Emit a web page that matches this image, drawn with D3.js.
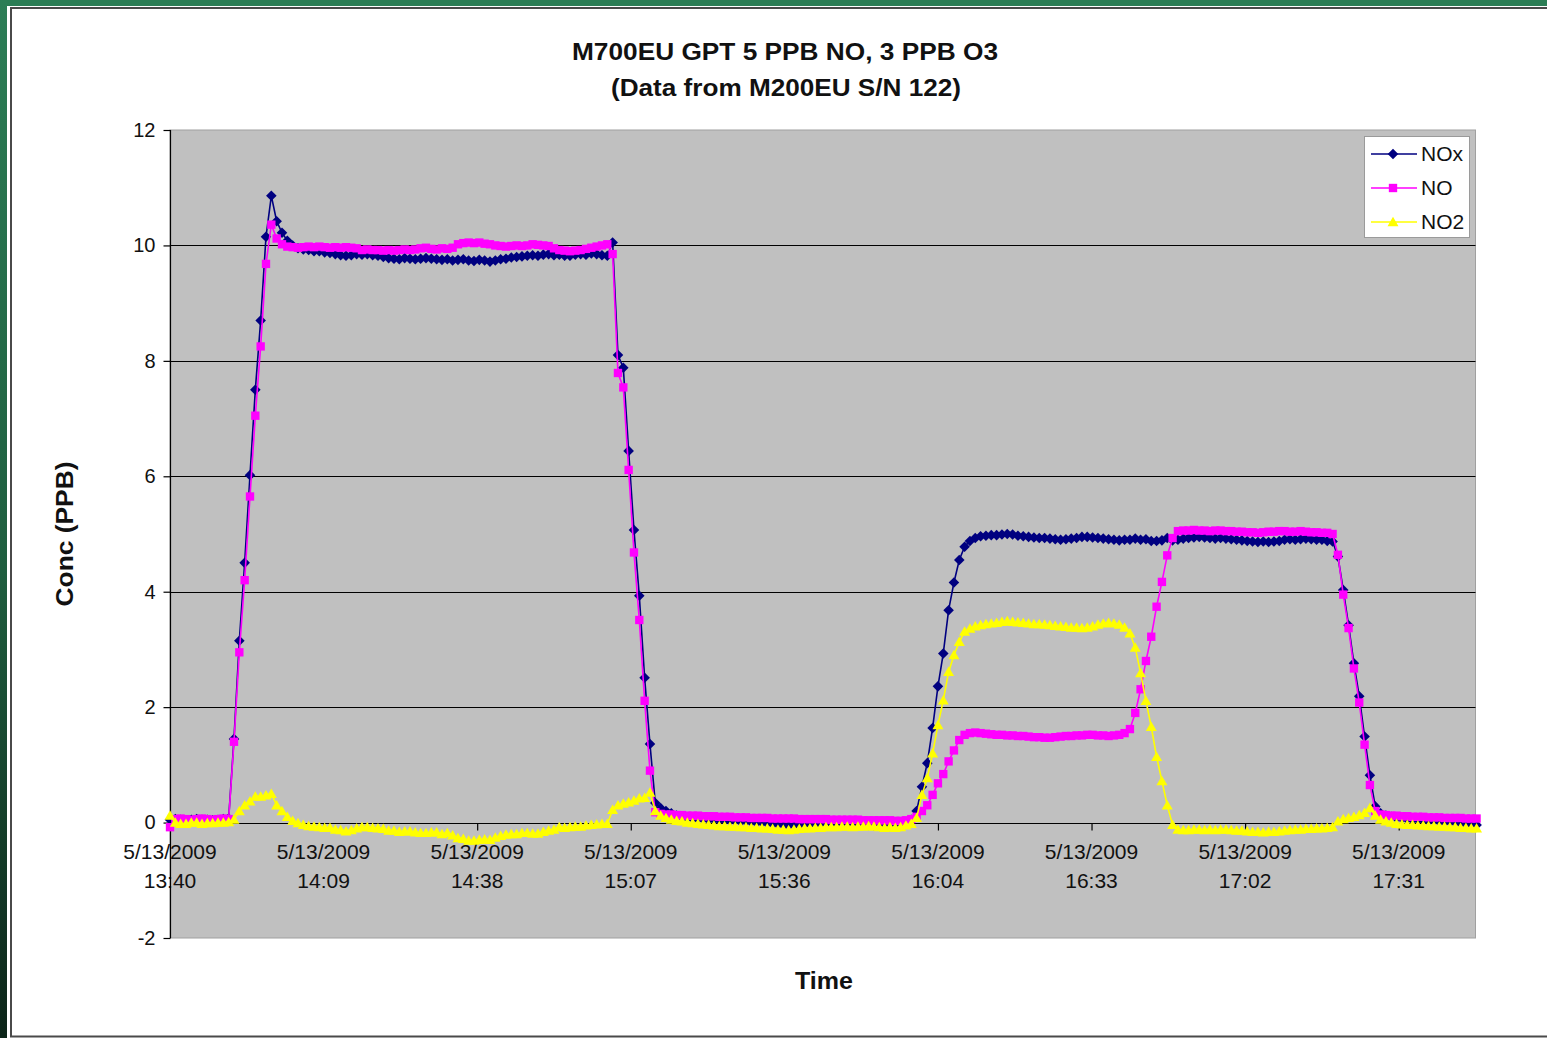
<!DOCTYPE html>
<html><head><meta charset="utf-8">
<script src="https://cdn.jsdelivr.net/npm/d3@7"></script>
<style>html,body{margin:0;padding:0;background:#fff;overflow:hidden;} svg{display:block;font-family:"Liberation Sans",Arial,sans-serif;}</style>
</head><body>
<svg id="c" width="1547" height="1038"></svg>
<script>
// ---------------- data ----------------
const chartTitle = ["M700EU GPT 5 PPB NO, 3 PPB O3", "(Data from M200EU S/N 122)"];
const yAxisTitle = "Conc (PPB)";
const xAxisTitle = "Time";
const dateLabel = "5/13/2009";
const startTime = "13:40:00";      // first reading; one reading per minute
const axisEndTime = "17:44:48";
const tickTimes = ["13:40:00","14:08:48","14:37:36","15:06:24","15:35:12","16:04:00","16:32:48","17:01:36","17:30:24"];
const tickLabels = ["13:40","14:09","14:38","15:07","15:36","16:04","16:33","17:02","17:31"];
const yTicks = [-2,0,2,4,6,8,10,12];
const seriesNames = ["NOx","NO","NO2"];

const noxValues = [
 0.05,0.06,0.05,0.04,0.05,0.06,0.05,0.05,0.04,0.05,
 0.06,0.07,1.45,3.15,4.5,6.02,7.5,8.7,10.15,10.86,
 10.42,10.22,10.08,10.0,9.95,9.93,9.92,9.9,9.9,9.88,
 9.87,9.85,9.83,9.82,9.83,9.85,9.84,9.85,9.83,9.82,
 9.8,9.78,9.77,9.76,9.78,9.77,9.76,9.77,9.78,9.77,
 9.76,9.75,9.76,9.74,9.75,9.76,9.74,9.73,9.75,9.74,
 9.72,9.74,9.76,9.77,9.79,9.8,9.81,9.82,9.83,9.82,
 9.84,9.85,9.83,9.84,9.82,9.82,9.84,9.85,9.84,9.86,
 9.85,9.83,9.82,10.05,8.1,7.88,6.44,5.07,3.93,2.51,
 1.36,0.34,0.25,0.2,0.16,0.12,0.1,0.08,0.07,0.06,
 0.06,0.05,0.05,0.04,0.04,0.03,0.03,0.02,0.02,0.01,
 0.0,0.0,-0.01,-0.02,-0.03,-0.04,-0.05,-0.05,-0.04,-0.03,
 -0.03,-0.02,-0.02,-0.01,-0.02,-0.02,-0.01,-0.02,-0.03,-0.02,
 -0.03,-0.04,-0.05,-0.06,-0.07,-0.06,-0.07,-0.05,0.0,0.05,
 0.2,0.62,1.03,1.64,2.36,2.93,3.68,4.16,4.55,4.78,
 4.88,4.93,4.96,4.97,4.98,4.98,4.99,5.0,4.99,4.97,
 4.96,4.95,4.94,4.93,4.93,4.92,4.91,4.9,4.91,4.92,
 4.93,4.95,4.95,4.94,4.93,4.92,4.91,4.9,4.89,4.9,
 4.9,4.92,4.9,4.91,4.88,4.88,4.89,4.93,4.89,4.9,
 4.92,4.93,4.94,4.95,4.94,4.93,4.92,4.93,4.92,4.91,
 4.9,4.89,4.88,4.87,4.86,4.87,4.86,4.87,4.88,4.9,
 4.91,4.9,4.91,4.92,4.91,4.9,4.9,4.88,4.87,4.61,
 4.03,3.42,2.76,2.19,1.49,0.82,0.28,0.16,0.12,0.1,
 0.08,0.07,0.06,0.05,0.05,0.04,0.03,0.03,0.02,0.01,
 0.01,0.0,-0.01,-0.02,-0.03,-0.04
];
const noValues = [
 -0.08,0.06,0.07,0.06,0.05,0.06,0.07,0.06,0.05,0.06,
 0.07,0.06,1.4,2.95,4.2,5.65,7.05,8.25,9.68,10.36,
 10.12,10.02,9.98,9.97,9.96,9.97,9.98,9.97,9.98,9.97,
 9.96,9.97,9.96,9.97,9.96,9.95,9.92,9.93,9.92,9.92,
 9.91,9.92,9.91,9.92,9.93,9.92,9.93,9.95,9.96,9.94,
 9.93,9.95,9.94,9.96,10.02,10.04,10.05,10.04,10.05,10.03,
 10.02,10.0,9.99,9.98,9.99,10.0,9.99,10.0,10.02,10.01,
 10.0,9.99,9.95,9.92,9.91,9.9,9.91,9.92,9.94,9.96,
 9.98,10.0,10.02,9.85,7.79,7.54,6.11,4.68,3.51,2.11,
 0.9,0.18,0.15,0.14,0.14,0.13,0.13,0.12,0.12,0.12,
 0.11,0.11,0.11,0.1,0.1,0.1,0.09,0.09,0.09,0.08,
 0.08,0.08,0.08,0.07,0.07,0.07,0.07,0.07,0.06,0.06,
 0.06,0.06,0.06,0.06,0.05,0.05,0.05,0.05,0.05,0.05,
 0.04,0.04,0.04,0.04,0.04,0.04,0.03,0.03,0.04,0.06,
 0.1,0.2,0.3,0.48,0.68,0.84,1.06,1.25,1.43,1.52,
 1.55,1.56,1.55,1.54,1.53,1.52,1.52,1.51,1.51,1.5,
 1.5,1.49,1.48,1.48,1.47,1.47,1.48,1.49,1.5,1.5,
 1.51,1.51,1.52,1.52,1.51,1.51,1.5,1.51,1.52,1.55,
 1.62,1.9,2.31,2.8,3.22,3.74,4.17,4.63,4.93,5.05,
 5.06,5.06,5.07,5.06,5.06,5.05,5.06,5.06,5.05,5.05,
 5.04,5.04,5.03,5.03,5.02,5.03,5.04,5.04,5.05,5.05,
 5.04,5.04,5.05,5.04,5.03,5.03,5.02,5.02,5.0,4.64,
 3.95,3.37,2.67,2.08,1.35,0.65,0.2,0.14,0.13,0.12,
 0.12,0.11,0.11,0.1,0.1,0.1,0.09,0.09,0.09,0.08,
 0.08,0.08,0.08,0.07,0.07,0.07
];
const no2Values = [
 0.12,0.0,-0.02,-0.02,0.0,0.0,-0.02,-0.01,-0.01,0.0,
 0.0,0.01,0.05,0.2,0.3,0.37,0.45,0.45,0.47,0.5,
 0.3,0.2,0.1,0.03,-0.01,-0.04,-0.06,-0.07,-0.08,-0.09,
 -0.09,-0.12,-0.13,-0.15,-0.13,-0.1,-0.08,-0.08,-0.09,-0.1,
 -0.11,-0.14,-0.14,-0.16,-0.15,-0.15,-0.17,-0.18,-0.18,-0.17,
 -0.17,-0.2,-0.18,-0.22,-0.27,-0.28,-0.31,-0.31,-0.3,-0.29,
 -0.3,-0.26,-0.23,-0.21,-0.2,-0.2,-0.18,-0.18,-0.19,-0.19,
 -0.16,-0.14,-0.12,-0.08,-0.09,-0.08,-0.07,-0.07,-0.05,-0.04,
 -0.03,-0.02,-0.02,0.22,0.3,0.33,0.35,0.38,0.42,0.43,
 0.52,0.2,0.12,0.08,0.05,0.03,0.02,0.0,-0.01,-0.02,
 -0.03,-0.04,-0.05,-0.06,-0.06,-0.07,-0.07,-0.08,-0.08,-0.09,
 -0.09,-0.1,-0.1,-0.11,-0.12,-0.12,-0.13,-0.12,-0.11,-0.1,
 -0.1,-0.09,-0.09,-0.08,-0.08,-0.08,-0.07,-0.07,-0.08,-0.07,
 -0.07,-0.06,-0.07,-0.08,-0.09,-0.08,-0.09,-0.08,-0.05,-0.02,
 0.08,0.48,0.77,1.2,1.69,2.12,2.61,2.9,3.13,3.31,
 3.36,3.4,3.42,3.44,3.45,3.46,3.48,3.49,3.48,3.47,
 3.46,3.45,3.44,3.44,3.43,3.42,3.41,3.4,3.39,3.38,
 3.38,3.37,3.38,3.4,3.43,3.45,3.46,3.45,3.43,3.38,
 3.28,3.03,2.59,2.11,1.66,1.14,0.72,0.3,-0.04,-0.12,
 -0.13,-0.13,-0.12,-0.12,-0.13,-0.12,-0.13,-0.12,-0.12,-0.13,
 -0.14,-0.14,-0.15,-0.16,-0.16,-0.17,-0.16,-0.16,-0.15,-0.14,
 -0.13,-0.12,-0.12,-0.11,-0.11,-0.1,-0.1,-0.09,-0.08,0.02,
 0.06,0.08,0.1,0.13,0.17,0.25,0.12,0.05,0.02,0.0,
 -0.02,-0.03,-0.04,-0.04,-0.05,-0.05,-0.06,-0.06,-0.07,-0.07,
 -0.08,-0.08,-0.09,-0.09,-0.1,-0.1
];

// ---------------- drawing ----------------
const svg = d3.select("#c");
const W = 1547, H = 1038;
const plot = {left: 170, right: 1475.5, top: 130, bottom: 938};

const parseT = s => { const [h,m,sec] = s.split(":").map(Number); return new Date(2009,4,13,h,m,sec||0); };
const t0 = parseT(startTime);
const times = noxValues.map((_, i) => d3.timeMinute.offset(t0, i));

const x = d3.scaleTime().domain([t0, parseT(axisEndTime)]).range([plot.left, plot.right]);
const y = d3.scaleLinear().domain([-2, 12]).range([plot.bottom, plot.top]);

// frame
const defs = svg.append("defs");
const g1 = defs.append("linearGradient").attr("id","lg").attr("x1",0).attr("y1",0).attr("x2",0).attr("y2",1);
g1.append("stop").attr("offset","0%").attr("stop-color","#2c7e56");
g1.append("stop").attr("offset","55%").attr("stop-color","#1f5e3f");
g1.append("stop").attr("offset","100%").attr("stop-color","#0c2519");
svg.append("rect").attr("x",0).attr("y",0).attr("width",W).attr("height",H).attr("fill","#fff");
svg.append("rect").attr("x",0).attr("y",0).attr("width",W).attr("height",6).attr("fill","#2b7d55");
svg.append("rect").attr("x",0).attr("y",0).attr("width",7).attr("height",H).attr("fill","url(#lg)");
svg.append("path").attr("d",`M${W},8 H11 V1036.5 H${W}`).attr("fill","none").attr("stroke","#4a4a4a").attr("stroke-width",2);

// plot area
svg.append("rect").attr("x",plot.left).attr("y",plot.top)
  .attr("width",plot.right-plot.left).attr("height",plot.bottom-plot.top)
  .attr("fill","#c0c0c0").attr("stroke","#a0a0a0").attr("stroke-width",1);

// gridlines
svg.append("g").selectAll("line").data(yTicks.filter(v => v > 0 && v < 12)).join("line")
  .attr("x1",plot.left).attr("x2",plot.right)
  .attr("y1",d=>Math.round(y(d))+0.5).attr("y2",d=>Math.round(y(d))+0.5)
  .attr("stroke","#000").attr("stroke-width",1);

// x axis at y = 0
const xAxisY = Math.round(y(0))+0.5;
const xAxis = d3.axisBottom(x).tickValues(tickTimes.map(parseT)).tickSize(7).tickFormat("");
const gx = svg.append("g").attr("transform",`translate(0,${xAxisY})`).call(xAxis);
gx.select(".domain").attr("stroke","#000").attr("stroke-width",1.2).attr("d",`M${plot.left},0H${plot.right}`);
gx.selectAll(".tick line").attr("stroke","#000").attr("stroke-width",1.2);
const lblG = svg.append("g").attr("font-size",21).attr("fill","#111").attr("text-anchor","middle");
tickTimes.forEach((t,i) => {
  const tx = x(parseT(t));
  lblG.append("text").attr("x",tx).attr("y",859).text(dateLabel);
  lblG.append("text").attr("x",tx).attr("y",888).text(tickLabels[i]);
});

// y axis
const yAxis = d3.axisLeft(y).tickValues(yTicks).tickSize(7).tickPadding(8).tickFormat(d => String(d));
const gy = svg.append("g").attr("transform",`translate(${plot.left+0.5},0)`).call(yAxis);
gy.select(".domain").attr("stroke","#000").attr("stroke-width",1.2).attr("d",`M0,${plot.top}V${plot.bottom}`);
gy.selectAll(".tick line").attr("stroke","#000").attr("stroke-width",1.2);
gy.selectAll(".tick text").attr("font-size",20).attr("fill","#111").attr("font-family","'Liberation Sans',Arial,sans-serif");

// series
const series = [
  {name: seriesNames[0], values: noxValues, color: "#000080", marker: "diamond"},
  {name: seriesNames[1], values: noValues,  color: "#ff00ff", marker: "square"},
  {name: seriesNames[2], values: no2Values, color: "#ffff00", marker: "triangle"}
];
const symbolPath = {
  diamond: d3.symbol(d3.symbolSquare, 56)(),
  square: d3.symbol(d3.symbolSquare, 70)(),
  triangle: d3.symbol(d3.symbolTriangle, 52)()
};
const symbolRot = {diamond: 45, square: 0, triangle: 0};
const line = d3.line().x(d => x(d.t)).y(d => y(d.v));

series.forEach(s => {
  const pts = s.values.map((v, i) => ({t: times[i], v}));
  const g = svg.append("g");
  g.append("path").datum(pts).attr("d", line).attr("fill","none")
    .attr("stroke", s.color).attr("stroke-width", 1.6);
  g.selectAll("path.m").data(pts).join("path").attr("class","m")
    .attr("d", symbolPath[s.marker])
    .attr("transform", d => `translate(${x(d.t)},${y(d.v) + (s.marker==="triangle"?1:0)}) rotate(${symbolRot[s.marker]})`)
    .attr("fill", s.color);
});

// legend
const lg = svg.append("g");
lg.append("rect").attr("x",1364.5).attr("y",136.5).attr("width",105).attr("height",101)
  .attr("fill","#fff").attr("stroke","#9a9a9a").attr("stroke-width",1);
const legRows = [154, 188, 222];
series.forEach((s, i) => {
  const yy = legRows[i];
  lg.append("line").attr("x1",1371).attr("x2",1417).attr("y1",yy).attr("y2",yy).attr("stroke",s.color).attr("stroke-width",1.6);
  lg.append("path").attr("d",symbolPath[s.marker])
    .attr("transform",`translate(1393,${yy + (s.marker==="triangle"?1:0)}) rotate(${symbolRot[s.marker]})`).attr("fill",s.color);
  lg.append("text").attr("x",1421).attr("y",yy+7).attr("font-size",21).attr("fill","#111").text(s.name);
});

// titles
const tg = svg.append("g").attr("text-anchor","middle").attr("font-weight","bold").attr("fill","#111");
tg.append("text").attr("x",785).attr("y",60).attr("font-size",24).attr("textLength",426).attr("lengthAdjust","spacingAndGlyphs").text(chartTitle[0]);
tg.append("text").attr("x",786).attr("y",96).attr("font-size",24).attr("textLength",350).attr("lengthAdjust","spacingAndGlyphs").text(chartTitle[1]);
tg.append("text").attr("x",824).attr("y",989).attr("font-size",24).attr("textLength",58).attr("lengthAdjust","spacingAndGlyphs").text(xAxisTitle);
tg.append("text").attr("transform","translate(73,534) rotate(-90)").attr("font-size",24).attr("textLength",145).attr("lengthAdjust","spacingAndGlyphs").text(yAxisTitle);
</script>
</body></html>
